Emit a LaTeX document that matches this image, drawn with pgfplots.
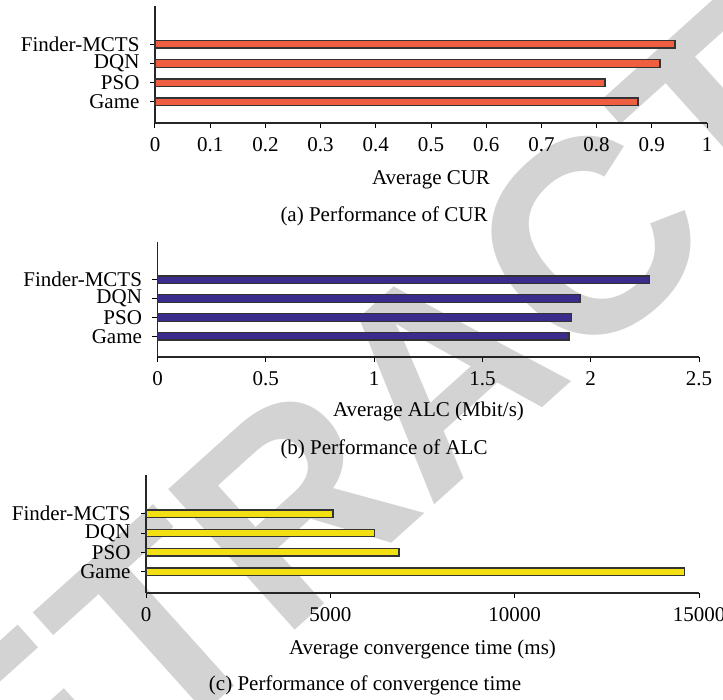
\documentclass[border=0pt]{standalone}
\usepackage{fontspec}
\setmainfont{Liberation Serif}
\newfontfamily\wmfont{Liberation Sans}
\usepackage{pgfplots}
\pgfplotsset{compat=1.18}

\definecolor{curbar}{RGB}{240,94,66}
\definecolor{alcbar}{RGB}{58,44,138}
\definecolor{timebar}{RGB}{242,224,18}
\definecolor{wmgray}{RGB}{211,211,211}

\newcommand\lbl{\fontsize{21}{25}\selectfont}

\pgfplotsset{
  hbar/.style={
    xbar, scale only axis, axis lines*=left,
    ymin=-1.1, ymax=5,
    ytick={0,1,2,3}, yticklabels={Game,PSO,DQN,Finder-MCTS},
    tick align=outside, major tick length=5pt,
    tick style={line width=1pt, black},
    axis line style={line width=1.2pt, black!85},
    bar width=7.5pt,
    tick label style={font=\lbl},
    yticklabel style={xshift=-7pt},
    xticklabel style={yshift=-6pt},
    /pgf/number format/assume math mode=true,
    /pgf/number format/1000 sep={},
    scaled x ticks=false,
    anchor=south west, clip=false,
  },
  barstyle/.style={fill=#1, draw=black!80, line width=1.3pt},
}

\begin{document}
\begin{tikzpicture}
\useasboundingbox (0,0) rectangle (723pt,699pt);

% RETRACTED stamp behind the panels
\begin{scope}
  \clip (0,0) rectangle (723pt,699pt);
  \node[rotate=42, text=wmgray, inner sep=0pt,
        font=\wmfont\bfseries\fontsize{275}{275}\selectfont]
        at (440pt,326pt) {RETRACTED};
\end{scope}

% (a) CUR
\begin{axis}[hbar, at={(155pt,576pt)}, width=552pt, height=117pt,
  xmin=0, xmax=1, xtick={0,0.1,0.2,0.3,0.4,0.5,0.6,0.7,0.8,0.9,1}]
  \addplot[barstyle=curbar] coordinates {(0.875,0) (0.815,1) (0.915,2) (0.942,3)};
\end{axis}
\node[font=\lbl, anchor=base] at (431pt,514pt) {Average CUR};
\node[font=\lbl, anchor=base] at (384pt,477pt) {(a) Performance of CUR};

% (b) ALC
\begin{axis}[hbar, at={(157.5pt,342pt)}, width=541.5pt, height=115pt,
  xmin=0, xmax=2.5, xtick={0,0.5,1,1.5,2,2.5}]
  \addplot[barstyle=alcbar] coordinates {(1.90,0) (1.91,1) (1.95,2) (2.27,3)};
\end{axis}
\node[font=\lbl, anchor=base] at (428.5pt,282pt) {Average ALC (Mbit/s)};
\node[font=\lbl, anchor=base] at (384pt,244pt) {(b) Performance of ALC};

% (c) convergence time
\begin{axis}[hbar, at={(146pt,106pt)}, width=553pt, height=118pt,
  xmin=0, xmax=15000, xtick={0,5000,10000,15000}]
  \addplot[barstyle=timebar] coordinates {(14600,0) (6860,1) (6200,2) (5070,3)};
\end{axis}
\node[font=\lbl, anchor=base] at (422.5pt,45pt) {Average convergence time (ms)};
\node[font=\lbl, anchor=base] at (365pt,9pt) {(c) Performance of convergence time};
\end{tikzpicture}
\end{document}
